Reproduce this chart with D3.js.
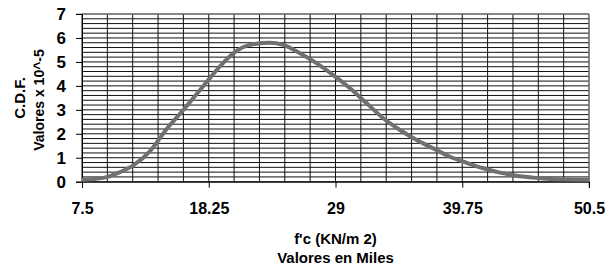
<!DOCTYPE html>
<meta charset="utf-8">
<style>
body { margin: 0; background: #fff; }
text { font-family: "Liberation Sans", Arial, sans-serif; font-weight: bold; fill: #000; }
</style>
<svg width="615" height="270"></svg>
<script src="https://d3js.org/d3.v7.min.js"></script>
<script>

// f'c in thousands (KN/m2) and the curve value x 10^-5
var fc = [7.5, 9.31, 10.72, 11.85, 13.27, 14.68, 16.09, 17.51, 18.92, 20.33, 21.75, 23.44,
          24.57, 25.99, 27.41, 28.81, 30.23, 31.65, 33.05, 34.47, 35.89, 37.29, 38.71,
          40.13, 41.53, 42.95, 44.37, 45.77, 47.19, 48.61, 50.5];
var cdf = [0.08, 0.16, 0.4, 0.68, 1.28, 2.2, 2.99, 3.83, 4.66, 5.36, 5.71, 5.8,
           5.71, 5.36, 4.94, 4.45, 3.9, 3.27, 2.65, 2.16, 1.74, 1.39, 1.04,
           0.79, 0.56, 0.38, 0.25, 0.17, 0.11, 0.09, 0.08];
var xTicks = [7.5, 18.25, 29, 39.75, 50.5];
var yTicks = [0, 1, 2, 3, 4, 5, 6, 7];

var svg = d3.select("svg"),
    pLeft = 82, pRight = 589, pTop = 14, pBottom = 181.7;

var x = d3.scaleLinear().domain([7.5, 50.5]).range([pLeft, pRight]);
var y = d3.scaleLinear().domain([0, 7]).range([pBottom, pTop]);

// minor grid: 20 columns, 0.2 rows
var xGrid = d3.range(0, 21).map(function(i) { return 7.5 + i * 2.15; });
var yGrid = d3.range(0, 36).map(function(i) { return i * 0.2; });

svg.append("g").selectAll("line")
  .data(yGrid)
  .enter().append("line")
    .attr("x1", pLeft).attr("x2", pRight)
    .attr("y1", function(d) { return y(d); })
    .attr("y2", function(d) { return y(d); })
    .attr("stroke", "#111")
    .attr("stroke-width", 1);

svg.append("g").selectAll("line")
  .data(xGrid)
  .enter().append("line")
    .attr("x1", function(d) { return x(d); })
    .attr("x2", function(d) { return x(d); })
    .attr("y1", pTop).attr("y2", pBottom)
    .attr("stroke", "#111")
    .attr("stroke-width", 1);

// frame top / right in gray
svg.append("line").attr("x1", pLeft - 6).attr("x2", pRight).attr("y1", pTop).attr("y2", pTop)
    .attr("stroke", "#888");
svg.append("line").attr("x1", pRight).attr("x2", pRight).attr("y1", pTop).attr("y2", pBottom + 6)
    .attr("stroke", "#888");

svg.append("g")
    .attr("transform", "translate(0," + pBottom + ")")
    .call(d3.axisBottom(x).tickValues(xTicks).tickSize(6).tickPadding(15)
      .tickFormat(function(d) { return d; }))
    .call(function(g) {
      g.selectAll("text").attr("font-size", 16);
      g.attr("font-family", null);
    });

svg.append("g")
    .attr("transform", "translate(" + pLeft + ",0)")
    .call(d3.axisLeft(y).tickValues(yTicks).tickSize(6).tickPadding(10)
      .tickFormat(d3.format("d")))
    .call(function(g) {
      g.selectAll("text").attr("font-size", 17);
      g.attr("font-family", null);
    });

svg.append("path")
    .datum(fc.map(function(d, i) { return [d, cdf[i]]; }))
    .attr("fill", "none")
    .attr("stroke", "#707070")
    .attr("stroke-width", 4)
    .attr("stroke-linejoin", "round")
    .attr("d", d3.line()
      .x(function(d) { return x(d[0]); })
      .y(function(d) { return y(d[1]); })
      .curve(d3.curveMonotoneX));

// axis titles
svg.append("text")
    .attr("transform", "translate(25,98) rotate(-90)")
    .attr("text-anchor", "middle")
    .attr("font-size", 15)
    .text("C.D.F.");
svg.append("text")
    .attr("transform", "translate(44,100) rotate(-90)")
    .attr("text-anchor", "middle")
    .attr("font-size", 14)
    .text("Valores x 10^-5");

svg.append("text")
    .attr("x", (pLeft + pRight) / 2).attr("y", 244)
    .attr("text-anchor", "middle")
    .attr("font-size", 15)
    .text("f'c (KN/m 2)");
svg.append("text")
    .attr("x", (pLeft + pRight) / 2).attr("y", 263)
    .attr("text-anchor", "middle")
    .attr("font-size", 15)
    .text("Valores en Miles");

</script>
